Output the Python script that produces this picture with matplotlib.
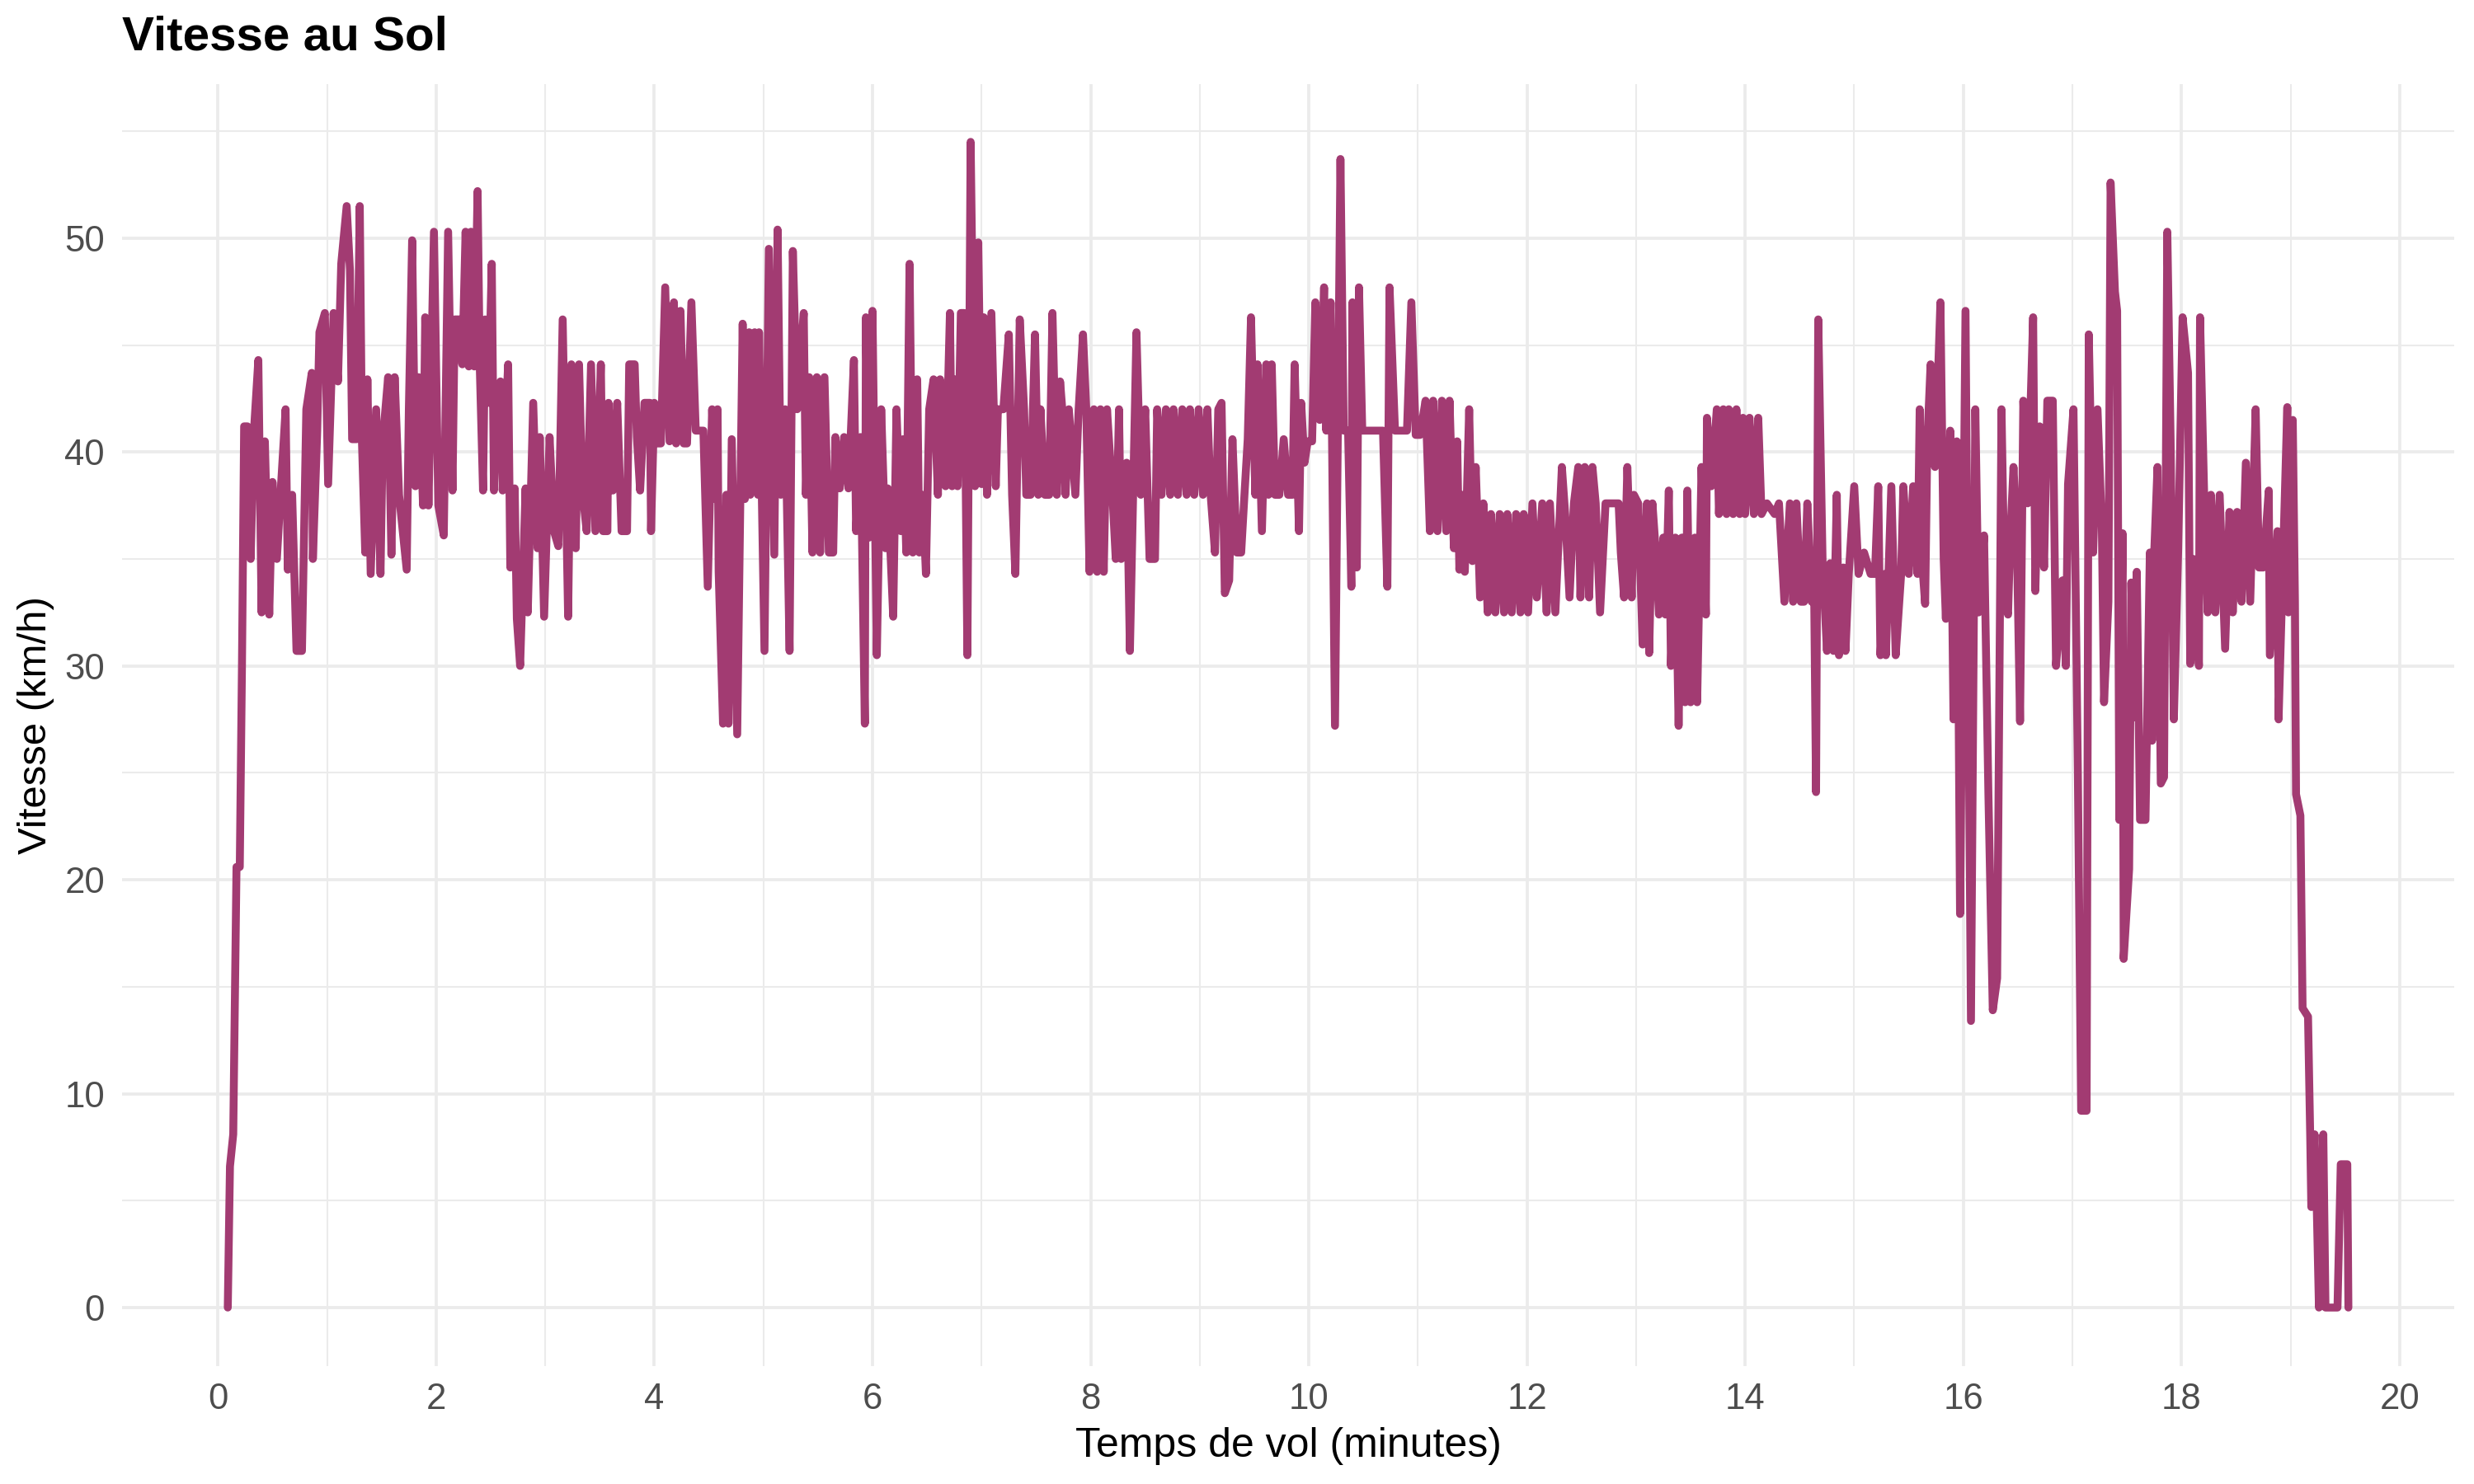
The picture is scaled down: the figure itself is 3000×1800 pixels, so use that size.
import matplotlib
matplotlib.use("Agg")
import matplotlib.pyplot as plt
from matplotlib.ticker import MultipleLocator

plt.rcParams['font.family'] = ['Liberation Sans', 'DejaVu Sans']

# temps (minutes) et vitesse sol (km/h)
minutes = [
    0.09, 0.11, 0.14, 0.17, 0.20, 0.22, 0.24, 0.27, 0.30, 0.33, 0.37, 0.40, 0.43, 0.47, 0.50,
    0.54, 0.58, 0.62, 0.64, 0.68, 0.72, 0.77, 0.81, 0.86, 0.87, 0.91, 0.93, 0.98, 1.01, 1.06,
    1.10, 1.13, 1.18, 1.21, 1.23, 1.27, 1.30, 1.32, 1.35, 1.37, 1.40, 1.45, 1.49, 1.51, 1.56,
    1.59, 1.62, 1.66, 1.73, 1.75, 1.78, 1.81, 1.84, 1.88, 1.90, 1.93, 1.98, 2.02,
    2.07, 2.11, 2.15, 2.17, 2.21, 2.24, 2.27, 2.30, 2.32, 2.35, 2.38, 2.40, 2.43, 2.45, 2.48,
    2.51, 2.53, 2.55, 2.59, 2.61, 2.66, 2.68, 2.72, 2.74, 2.77, 2.82, 2.84, 2.89, 2.93, 2.95,
    2.99, 3.04, 3.08, 3.12, 3.16, 3.18, 3.21, 3.24, 3.28, 3.31, 3.34, 3.38, 3.42, 3.46, 3.51,
    3.53, 3.57, 3.58, 3.62, 3.66, 3.70, 3.75, 3.77, 3.82, 3.84, 3.87, 3.91, 3.96, 3.97, 4.00,
    4.02, 4.06, 4.10,
    4.14, 4.18, 4.20, 4.24, 4.27, 4.30, 4.34, 4.38, 4.45, 4.49, 4.53, 4.56, 4.58, 4.59, 4.63,
    4.66, 4.68, 4.71, 4.76, 4.81, 4.83, 4.87, 4.88, 4.92, 4.95, 4.96, 5.01, 5.05, 5.10, 5.13,
    5.16, 5.20, 5.24, 5.27, 5.31, 5.34, 5.37, 5.39, 5.42, 5.45, 5.49, 5.52, 5.56, 5.60, 5.64,
    5.66, 5.70, 5.74, 5.78, 5.83, 5.85, 5.89, 5.93, 5.94, 5.97, 6.00, 6.04, 6.08, 6.12, 6.14,
    6.19, 6.22, 6.26, 6.28, 6.31, 6.34, 6.37,
    6.41, 6.43, 6.46, 6.49, 6.52, 6.56, 6.60, 6.62, 6.67, 6.71, 6.73, 6.76, 6.78, 6.81, 6.84,
    6.87, 6.90, 6.94, 6.97, 7.00, 7.02, 7.05, 7.09, 7.13, 7.15, 7.20, 7.25, 7.28, 7.31, 7.35,
    7.39, 7.41, 7.45, 7.49, 7.52, 7.54, 7.58, 7.62, 7.65, 7.69, 7.72, 7.74, 7.77, 7.80, 7.86,
    7.89, 7.93, 7.96, 7.99, 8.03, 8.06, 8.09, 8.12, 8.15, 8.20, 8.23, 8.26, 8.28, 8.33,
    8.36, 8.42, 8.46, 8.50, 8.54, 8.59, 8.61, 8.65, 8.69, 8.73, 8.76, 8.80, 8.84, 8.88, 8.91,
    8.95, 8.99, 9.03, 9.07, 9.10, 9.14, 9.17, 9.20, 9.23, 9.27, 9.30, 9.34, 9.38, 9.41, 9.44,
    9.47, 9.51, 9.53, 9.57, 9.61, 9.63, 9.66, 9.69, 9.73, 9.77, 9.81, 9.85, 9.87, 9.91, 9.93,
    9.96, 9.99, 10.03, 10.06, 10.10, 10.14, 10.16, 10.20, 10.24, 10.29, 10.32, 10.36, 10.39,
    10.40, 10.44, 10.46, 10.49,
    10.53, 10.60, 10.68, 10.72, 10.74, 10.79, 10.85, 10.90, 10.94, 10.98, 11.02, 11.07, 11.11,
    11.14, 11.18, 11.22, 11.26, 11.29, 11.33, 11.36, 11.38, 11.41, 11.43, 11.47, 11.50, 11.53,
    11.57, 11.60, 11.64, 11.67, 11.71, 11.75, 11.79, 11.82, 11.86, 11.90, 11.94, 11.97, 12.01,
    12.05, 12.09, 12.14, 12.18, 12.21, 12.26, 12.32, 12.35, 12.39, 12.43, 12.47, 12.49, 12.53,
    12.57,
    12.60, 12.63, 12.67, 12.72, 12.77, 12.84, 12.86, 12.89, 12.92, 12.96, 12.98, 13.02, 13.06,
    13.10, 13.12, 13.15, 13.18, 13.21, 13.25, 13.27, 13.30, 13.32, 13.36, 13.39, 13.42, 13.45,
    13.47, 13.50, 13.54, 13.56, 13.60, 13.64, 13.65, 13.69, 13.74, 13.76, 13.80, 13.83, 13.85,
    13.89, 13.92, 13.95, 13.98, 14.00, 14.04, 14.08, 14.12, 14.15, 14.20, 14.27, 14.31, 14.36,
    14.41, 14.44, 14.47, 14.51, 14.54, 14.57, 14.61, 14.63, 14.65, 14.67,
    14.71, 14.75, 14.78, 14.81, 14.84, 14.86, 14.90, 14.92, 14.95, 15.00, 15.04, 15.09, 15.15,
    15.19, 15.22, 15.24, 15.28, 15.29, 15.34, 15.38, 15.43, 15.45, 15.50, 15.54, 15.58, 15.60,
    15.63, 15.65, 15.67, 15.70, 15.74, 15.79, 15.82, 15.84, 15.88, 15.91, 15.94, 15.97, 16.02,
    16.07, 16.11, 16.14, 16.19, 16.23, 16.27, 16.31, 16.35, 16.38, 16.41, 16.43, 16.46, 16.49,
    16.52, 16.55, 16.59, 16.64, 16.66, 16.70, 16.74, 16.77, 16.82,
    16.85, 16.91, 16.94, 16.96, 17.01, 17.05, 17.08, 17.13, 17.15, 17.19, 17.23, 17.27, 17.29,
    17.33, 17.35, 17.39, 17.41, 17.43, 17.46, 17.47, 17.52, 17.54, 17.57, 17.59, 17.62, 17.67,
    17.71, 17.73, 17.75, 17.78, 17.81, 17.84, 17.87, 17.90, 17.93, 17.97, 18.01, 18.06, 18.08,
    18.11, 18.16, 18.17, 18.21, 18.24, 18.27, 18.31, 18.35, 18.40, 18.44, 18.47, 18.51, 18.55,
    18.59, 18.63, 18.68, 18.71, 18.75, 18.80, 18.81, 18.88, 18.89, 18.97, 18.98,
    19.02, 19.04, 19.05, 19.09, 19.11, 19.16, 19.18, 19.19, 19.22, 19.24, 19.26, 19.30, 19.32,
    19.43, 19.46, 19.52, 19.53,
]

vitesse = [
    0, 6.6, 8.1, 20.6, 20.6, 30, 41.2, 41.2, 35, 41, 44.3, 32.5, 40.5, 32.4, 38.6,
    35, 38.6, 42, 34.5, 38, 30.7, 30.7, 42, 43.7, 35, 41, 45.6, 46.5, 38.5, 46.5,
    43.3, 48.8, 51.5, 48.5, 40.6, 40.6, 51.5, 40.5, 35.3, 43.4, 34.3, 42, 34.3, 40.5, 43.5,
    35.2, 43.5, 38, 34.5, 42, 49.9, 38.4, 43.5, 37.5, 46.3, 37.5, 50.3, 37.5,
    36.1, 50.3, 38.2, 46.2, 46.2, 44.1, 50.3, 44, 50.3, 44, 52.2, 44, 38.2, 46.2, 42.3,
    48.8, 38.2, 42.3, 43.3, 38.2, 44.1, 34.6, 38.3, 32.2, 30, 38.3, 32.5, 42.3, 35.5, 40.7,
    32.3, 40.7, 36.3, 35.6, 46.2, 40.7, 32.3, 44.1, 35.5, 44.1, 38.2, 36.3, 44.1, 36.3, 44.1,
    36.3, 36.3, 42.3, 38.2, 42.3, 36.3, 36.3, 44.1, 44.1, 40.7, 38.2, 42.3, 42.3, 36.3, 42.3,
    40.4, 40.4, 47.7,
    40.5, 47, 40.4, 46.6, 40.4, 40.4, 47, 41, 41, 33.7, 42, 37.8, 42, 34.4, 27.3,
    38, 27.3, 40.6, 26.8, 46, 37.8, 45.6, 38, 45.6, 38, 45.6, 30.7, 49.5, 35.2, 50.4,
    38, 42, 30.7, 49.4, 42, 44.5, 46.5, 38, 43.5, 35.3, 43.5, 35.3, 43.5, 35.3, 35.3,
    40.7, 38.3, 40.7, 38.3, 44.3, 36.3, 40.7, 27.3, 46.3, 36, 46.6, 30.5, 42, 35.5, 38.3,
    32.3, 42, 36.3, 40.6, 35.3, 48.8, 35.3,
    43.4, 35.3, 38, 34.3, 42, 43.4, 38, 43.4, 38.4, 46.5, 38.4, 43.4, 38.4, 46.5, 46.5,
    30.5, 54.5, 38.4, 49.8, 38.5, 46.3, 38, 46.5, 38.4, 42, 42, 45.5, 38, 34.3, 46.2,
    42, 38, 38, 45.5, 38, 42, 38, 38, 46.5, 38, 43.3, 42, 38, 42, 38,
    42, 45.5, 42, 34.4, 42, 34.4, 42, 34.4, 42, 38, 35, 42, 35, 39.5,
    30.7, 45.6, 38, 42, 35, 35, 42, 38, 42, 38, 42, 38, 42, 38, 42,
    38, 42, 38, 42, 38, 35.3, 42, 42.3, 33.4, 34, 40.6, 35.3, 35.3, 38, 40.6,
    46.3, 38, 44.1, 36.3, 44.1, 38, 44.1, 38, 38, 40.6, 38, 38, 44.1, 36.3, 42.3,
    39.5, 40.5, 40.5, 47, 41.5, 47.7, 41, 47, 27.2, 53.7, 41, 41, 33.7,
    47, 34.6, 47.7, 41,
    41, 41, 41, 33.7, 47.7, 41, 41, 41, 47, 40.8, 40.8, 42.4, 36.3,
    42.4, 36.3, 42.4, 36.3, 42.4, 35.5, 40.5, 34.5, 38, 34.4, 42, 34.9, 39.3,
    33.2, 37.6, 32.5, 37.1, 32.5, 37.1, 32.5, 37.1, 32.5, 37.1, 32.5, 37.1, 32.5,
    37.6, 33.2, 37.6, 32.5, 37.6, 32.5, 39.3, 37.1, 33.2, 37.6, 39.3, 33.2, 39.3,
    33.2,
    39.3, 37.6, 32.5, 37.6, 37.6, 37.6, 35.3, 33.2, 39.3, 33.2, 38, 37.6, 31,
    37.6, 30.6, 37.6, 35.4, 32.4, 36, 32.4, 38.2, 30, 36, 27.2, 36, 28.3,
    38.2, 28.3, 36, 28.3, 39.3, 32.4, 41.6, 38.4, 42, 37.1, 42, 37.1, 42,
    37.1, 42, 37.1, 41.6, 37.1, 41.6, 37.1, 41.6, 37.1, 37.6, 37.1, 37.6, 33,
    37.6, 33, 37.6, 33, 33, 37.6, 33, 34.8, 24.1, 46.2,
    34.8, 30.7, 34.8, 30.7, 38, 30.5, 34.6, 30.7, 34.3, 38.4, 34.3, 35.3, 34.3,
    34.3, 38.4, 30.5, 34.3, 30.5, 38.4, 30.5, 34.3, 38.4, 34.3, 38.4, 34.3, 42,
    34.3, 32.9, 40.5, 44.1, 39.3, 47, 35, 32.2, 41, 27.5, 40.5, 18.4, 46.6,
    13.4, 42, 32.5, 36.1, 24, 13.9, 15.4, 42, 33, 32.4, 36, 39.3, 36,
    27.4, 42.4, 37.6, 46.3, 33.5, 41.2, 34.6, 42.4, 42.4,
    30, 34, 30, 38.5, 42, 25, 9.2, 9.2, 45.5, 35.3, 42, 36.5, 28.3,
    33, 52.6, 47.5, 46.6, 22.8, 36.2, 16.3, 20.5, 33.9, 27.6, 34.4, 22.8, 22.8,
    35.3, 26.5, 35.3, 39.3, 24.5, 24.8, 50.3, 40.6, 27.5, 35.5, 46.3, 43.7, 30.1,
    35, 30, 46.3, 37.5, 32.5, 38, 32.5, 38, 30.8, 37.2, 32.5, 37.2, 33,
    39.5, 33, 42, 34.6, 34.6, 38.2, 30.5, 36.3, 27.5, 42.1, 32.5,
    41.5, 33, 24, 23, 14, 13.6, 8, 4.7, 8.1, 4.7, 0, 8.1, 0,
    0, 6.7, 6.7, 0,
]

line_color = "#A23B72"
grid_color = "#EBEBEB"

fig = plt.figure(figsize=(10, 6), dpi=300)
ax = fig.add_axes([0.0493, 0.0797, 0.9427, 0.8636])

ax.plot(minutes, vitesse, color=line_color, linewidth=2.3,
        solid_capstyle='round', solid_joinstyle='round', zorder=3)

ax.set_xlim(-0.88, 20.5)
ax.set_ylim(-2.72, 57.2)
ax.xaxis.set_major_locator(MultipleLocator(2))
ax.xaxis.set_minor_locator(MultipleLocator(1))
ax.yaxis.set_major_locator(MultipleLocator(10))
ax.yaxis.set_minor_locator(MultipleLocator(5))

ax.grid(which='major', color=grid_color, linewidth=0.9)
ax.grid(which='minor', color=grid_color, linewidth=0.5)
ax.set_axisbelow(True)
for s in ax.spines.values():
    s.set_visible(False)

ax.tick_params(which='both', length=0, labelsize=10.5, labelcolor='#4D4D4D', pad=5)

ax.set_xlabel("Temps de vol (minutes)", fontsize=12, color='black', labelpad=3)
ax.set_ylabel("Vitesse (km/h)", fontsize=11.8, color='black', labelpad=3)
ax.set_title("Vitesse au Sol", fontsize=14, fontweight='bold', loc='left',
             x=0.0, pad=10)

fig.savefig("out.png", dpi=300)
